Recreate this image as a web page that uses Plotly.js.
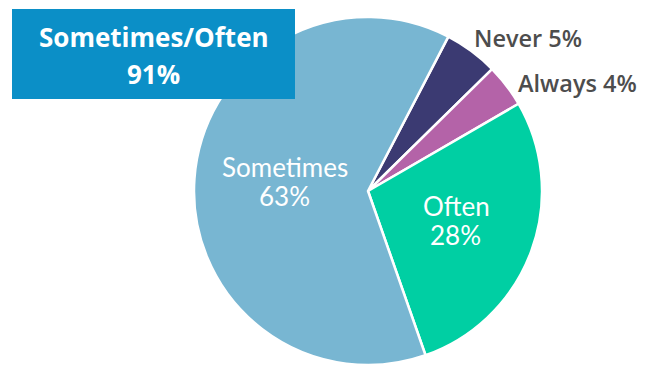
<!DOCTYPE html>
<html>
<head>
<meta charset="utf-8">
<script src="https://cdn.plot.ly/plotly-3.0.1.min.js"></script>
<style>html,body{margin:0;padding:0;background:#fff;}#chart{width:657px;height:365px;}</style>
</head>
<body>
<div id="chart"></div>
<script>
// ---- data ----
var labels = ["Never", "Always", "Often", "Sometimes"];
var values = [5, 4, 28, 63];
var colors = ["#3b3a72", "#b463a8", "#00cfa3", "#78b6d2"];
var highlightLabel = "Sometimes/Often";
var highlightValue = 91;

var W = 657, H = 365;
function px(x){ return x / W; }
function py(y){ return 1 - y / H; }

var trace = {
  type: "pie",
  labels: labels,
  values: values,
  sort: false,
  direction: "clockwise",
  rotation: 27.5,
  marker: { colors: colors, line: { color: "#ffffff", width: 2.5 } },
  textinfo: "none",
  hoverinfo: "label+percent",
  showlegend: false,
  domain: { x: [px(368 - 174), px(368 + 174)], y: [py(191 + 174), py(191 - 174)] }
};

var outsideFont = { family: "Open Sans", size: 23.5, color: "#4d4d4d", weight: 600 };
var insideFont = { family: "Lato", size: 26, color: "#ffffff" };
var titleFont = { family: "Open Sans", size: 26, color: "#ffffff", weight: 700 };

function ann(text, x, y, xanchor, font) {
  return { text: text, x: px(x), y: py(y), xref: "paper", yref: "paper",
           xanchor: xanchor, yanchor: "middle", showarrow: false, font: font };
}

var annotations = [
  ann(highlightLabel, 153.5, 37.5, "center", titleFont),
  ann(highlightValue + "%", 153.5, 73.5, "center", titleFont),
  ann(labels[0] + " " + values[0] + "%", 472, 38, "left", outsideFont),
  ann(labels[1] + " " + values[1] + "%", 516, 83, "left", outsideFont),
  ann(labels[3], 284.5, 167, "center", insideFont),
  ann(values[3] + "%", 284.5, 196.5, "center", insideFont),
  ann(labels[2], 456, 206.5, "center", insideFont),
  ann(values[2] + "%", 455.5, 235.5, "center", insideFont)
];

var layout = {
  width: W, height: H,
  margin: { l: 0, r: 0, t: 0, b: 0 },
  paper_bgcolor: "#ffffff",
  shapes: [{ type: "rect", xref: "paper", yref: "paper",
             x0: px(12), x1: px(295), y0: py(99), y1: py(9),
             fillcolor: "#0b8fc7", line: { width: 0 }, layer: "above" }],
  annotations: annotations
};

Plotly.newPlot("chart", [trace], layout, { displayModeBar: false, staticPlot: true });
</script>
</body>
</html>
